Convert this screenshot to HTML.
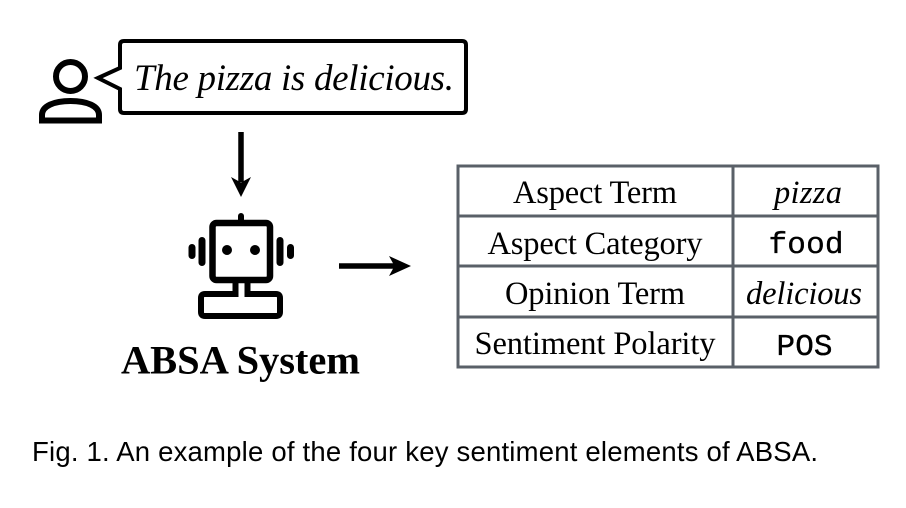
<!DOCTYPE html>
<html>
<head>
<meta charset="utf-8">
<style>
html,body{margin:0;padding:0;background:#fff;}
svg{display:block;}
.s{font-family:"Liberation Serif",serif;fill:#000;}
.m{font-family:"Liberation Mono",monospace;fill:#000;stroke:#000;stroke-width:.35px;}
.a{font-family:"Liberation Sans",sans-serif;fill:#000;}
</style>
</head>
<body>
<svg width="906" height="508" viewBox="0 0 906 508" xmlns="http://www.w3.org/2000/svg">
<rect width="906" height="508" fill="#fff"/>
<!-- user -->
<circle cx="70.500" cy="76.500" r="14.500" fill="none" stroke="#000" stroke-width="6"/>
<path d="M42 120.500 V115 C42 106 54 101 70.500 101 C87 101 99 106 99 115 V120.500 Z" fill="none" stroke="#000" stroke-width="6"/>
<!-- bubble -->
<path d="M124 41 H462 Q466 41 466 45 V109 Q466 113 462 113 H124 Q120 113 120 109 V89 L98 78 L120 68 V45 Q120 41 124 41 Z" fill="#fff" stroke="#000" stroke-width="4"/>
<text class="s" x="134" y="90" font-size="37" font-style="italic" textLength="320" lengthAdjust="spacing">The pizza is delicious.</text>
<!-- down arrow -->
<path d="M241 132 V182" stroke="#000" stroke-width="5.500" fill="none"/>
<path d="M231 177 L241 182.500 L251 177 L241 197 Z" fill="#000"/>
<!-- robot -->
<rect x="212.500" y="223" width="57.500" height="57" rx="4" fill="none" stroke="#000" stroke-width="6.500"/>
<path d="M241 216 V221" stroke="#000" stroke-width="6" stroke-linecap="round"/>
<circle cx="227" cy="250" r="5" fill="#000"/>
<circle cx="255" cy="250" r="5" fill="#000"/>
<path d="M202 240.500 V262.500 M280 240.500 V262.500" stroke="#000" stroke-width="7" stroke-linecap="round"/>
<path d="M192 247.500 V255.500 M290.500 247.500 V255.500" stroke="#000" stroke-width="7" stroke-linecap="round"/>
<path d="M235.500 282 V294 H205 Q201 294 201 298 V312 Q201 316 205 316 H276 Q280 316 280 312 V298 Q280 294 276 294 H247.500 V282" fill="none" stroke="#000" stroke-width="6"/>
<text class="s" x="121" y="373.500" font-size="40.500" font-weight="bold" textLength="239" lengthAdjust="spacing">ABSA System</text>
<!-- right arrow -->
<path d="M339 266 H396" stroke="#000" stroke-width="5.500" fill="none"/>
<path d="M389 256 L394.500 266 L389 276 L411 266 Z" fill="#000"/>
<!-- table -->
<g fill="none" stroke="#5a6068" stroke-width="3">
<rect x="458" y="166" width="420" height="201"/>
<path d="M733 166 V367 M458 216 H878 M458 266 H878 M458 317 H878"/>
</g>
<g font-size="32.500" text-anchor="middle">
<text class="s" x="595" y="203" textLength="164" lengthAdjust="spacing">Aspect Term</text>
<text class="s" x="595" y="254" textLength="215" lengthAdjust="spacing">Aspect Category</text>
<text class="s" x="595" y="304" textLength="180" lengthAdjust="spacing">Opinion Term</text>
<text class="s" x="595" y="354" textLength="241" lengthAdjust="spacing">Sentiment Polarity</text>
<text class="s" x="808" y="203" font-style="italic" textLength="68" lengthAdjust="spacing">pizza</text>
<text class="s" x="804" y="304" font-style="italic" textLength="116" lengthAdjust="spacing">delicious</text>
</g>
<g font-size="31" text-anchor="middle">
<text class="m" x="806" y="253" textLength="75" lengthAdjust="spacing">food</text>
<text class="m" x="804.500" y="355" textLength="56" lengthAdjust="spacing">POS</text>
</g>
<!-- caption -->
<text class="a" x="32" y="461" font-size="27.500" textLength="786" lengthAdjust="spacing">Fig. 1. An example of the four key sentiment elements of ABSA.</text>
</svg>
</body>
</html>
